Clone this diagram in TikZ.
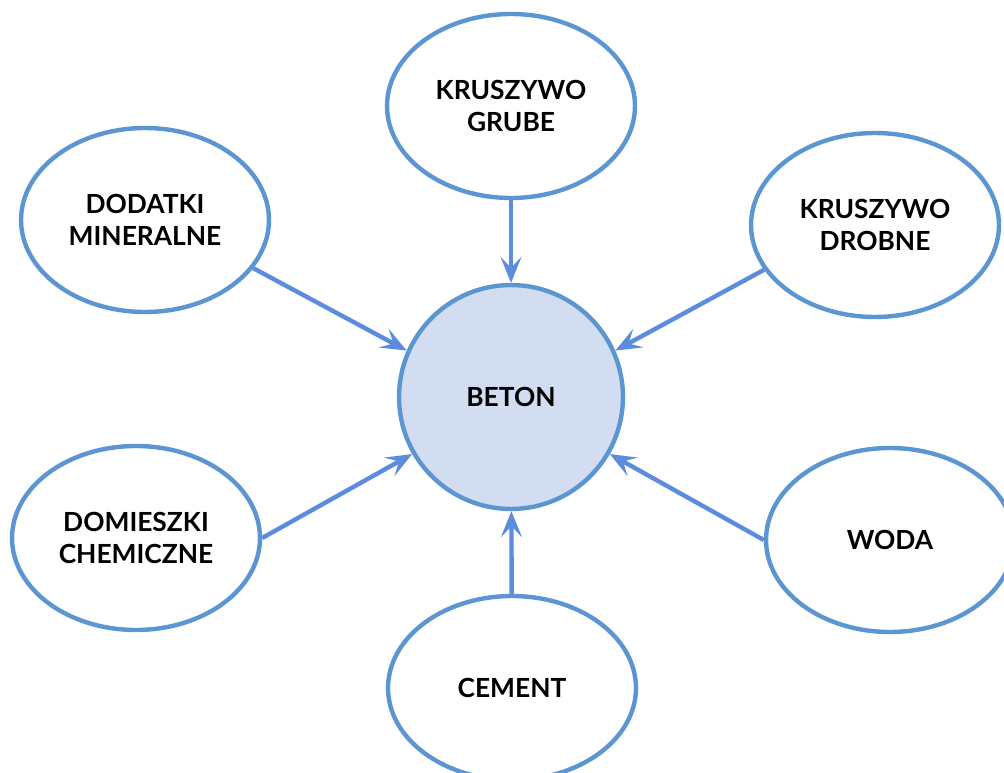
\documentclass[tikz,border=0pt]{standalone}
\usepackage{fontspec}
\setmainfont{Lato}
\usepackage{xcolor}
\usetikzlibrary{shapes.geometric, arrows.meta}

\definecolor{rim}{HTML}{5B95D2}
\definecolor{arrowblue}{HTML}{5B8CDD}
\definecolor{corefill}{HTML}{D3DDF1}

\begin{document}
\begin{tikzpicture}[
    x=0.02cm, y=-0.02cm,
    part/.style={
        ellipse, draw=rim, line width=2.5pt, fill=white,
        minimum width=4.96cm, minimum height=3.68cm, inner sep=0pt,
        font=\fontsize{15}{18.5}\selectfont\bfseries, align=center
    },
    core/.style={
        circle, draw=rim, line width=2.5pt, fill=corefill,
        minimum size=4.48cm, inner sep=0pt,
        font=\fontsize{15}{18.5}\selectfont\bfseries
    },
    feed/.style={
        draw=arrowblue, line width=2.5pt,
        -{Stealth[length=0.52cm, width=0.42cm, inset=0.22cm]}
    }
]
\useasboundingbox (0,0) rectangle (1004,773);

% Centre
\node[core] (beton) at (511,397) {BETON};

% ---- Components ----
\node[part] (grube)     at (511,106) {KRUSZYWO\\GRUBE};
\node[part] (dodatki)   at (145,220) {DODATKI\\MINERALNE};
\node[part] (drobne)    at (875,225) {KRUSZYWO\\DROBNE};
\node[part] (domieszki) at (136,538) {DOMIESZKI\\CHEMICZNE};
\node[part] (woda)      at (890,540) {WODA};
\node[part] (cement)    at (512,688) {CEMENT};

% ---- Arrows into the centre ----
\draw[feed] (grube) -- (beton);
\draw[feed] (dodatki.-24) -- (beton.156);
\draw[feed] (drobne.202) -- (beton.24);
\draw[feed] (domieszki.east) -- (beton.210);
\draw[feed] (woda.west) -- (beton.330);
\draw[feed] (cement) -- (beton);

\end{tikzpicture}
\end{document}
